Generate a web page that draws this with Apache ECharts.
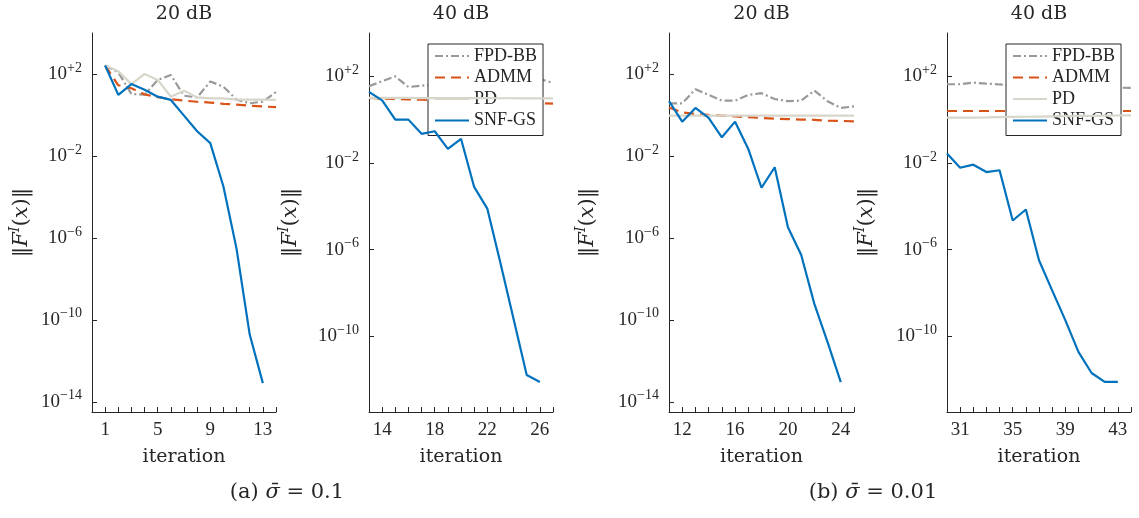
<!DOCTYPE html>
<html><head><meta charset="utf-8">
<script src="https://cdn.jsdelivr.net/npm/echarts@6/dist/echarts.min.js"></script>
<style>html,body{margin:0;padding:0;background:#fff}#c{width:1139px;height:518px}</style>
</head><body><div id="c"></div><script>
// ---------------- data ----------------
const seriesNames = ['FPD-BB', 'ADMM', 'PD', 'SNF-GS'];
const panelTitles = ['20 dB', '40 dB', '20 dB', '40 dB'];
const captions = ['(a) ', '(b) '];
const captionValues = ['0.1', '0.01'];

// (a) sigma = 0.1, 20 dB
const itA20 = [1,2,3,4,5,6,7,8,9,10,11,12,13,14];
const fpdA20 = [2.6e2,1.2e2,1.05e1,9.8,5.1e1,8.9e1,8.7,7.2,4.3e1,2.4e1,5.6,3.7,4.5,1.3e1];
const admmA20 = [2.6e2,2.8e1,2.0e1,1.0e1,7.4,5.9,5.0,4.4,4.0,3.5,3.2,2.8,2.6,2.4];
const pdA20 = [2.6e2,1.35e2,3.2e1,1.0e2,5.1e1,7.8,1.5e1,7.2,6.5,6.5,5.6,5.6,5.6,5.4];
const snfA20 = [2.6e2,9.5,3.2e1,1.7e1,7.8,5.4,9.3e-1,1.6e-1,4.2e-2,3.2e-4,2.9e-7,1.9e-11,8.1e-14];
// (a) sigma = 0.1, 40 dB
const itA40 = [13,14,15,16,17,18,19,20,21,22,23,24,25,26,27];
const fpdA40 = [3.5e1,5.9e1,1.0e2,3.2e1,3.7e1,4.2e1,5.0e1,3.8e1,4.6e1,5.6e1,4.2e1,5.0e1,6.6e1,7.6e1,4.9e1];
const admmA40 = [1.0e1,9.3,9.1,8.7,8.3,7.9,7.6,7.2,6.9,6.6,6.5,6.3,6.0,5.8,5.5];
const pdA40 = [1.0e1,1.0e1,1.0e1,1.0e1,9.9,9.9,9.9,9.8,9.8,9.8,9.7,9.7,9.6,9.6,9.5];
const snfA40 = [1.9e1,7.8,1.0,1.0,2.2e-1,2.9e-1,4.5e-2,1.3e-1,7.8e-4,7.8e-5,2.4e-7,6.3e-10,1.6e-12,7.6e-13];
// (b) sigma = 0.01, 20 dB
const itB20 = [11,12,13,14,15,16,17,18,19,20,21,22,23,24,25];
const fpdB20 = [3.7,3.7,1.8e1,9.5,5.0,5.0,9.5,1.15e1,6.0,4.7,5.0,1.55e1,4.7,2.2,2.6];
const admmB20 = [2.3,1.35,1.1,1.0,0.93,0.85,0.78,0.71,0.66,0.63,0.59,0.58,0.52,0.51,0.49];
const pdB20 = [0.93,0.93,0.93,0.93,0.93,0.93,0.93,0.93,0.93,0.93,0.93,0.93,0.93,0.93,0.93];
const snfB20 = [4.7,4.7e-1,2.2,7.1e-1,8.1e-2,4.7e-1,2.2e-2,2.8e-4,2.8e-3,3.3e-6,1.5e-7,6.0e-10,8.1e-12,9.1e-14];
// (b) sigma = 0.01, 40 dB
const itB40 = [30,31,32,33,34,35,36,37,38,39,40,41,42,43,44];
const fpdB40 = [4.3e1,4.3e1,5.1e1,4.6e1,4.2e1,4.0e1,3.8e1,3.7e1,3.5e1,3.5e1,3.4e1,3.3e1,3.2e1,3.0e1,2.9e1];
const admmB40 = [2.5,2.5,2.5,2.5,2.5,2.5,2.5,2.5,2.5,2.5,2.5,2.5,2.5,2.5,2.5];
const pdB40 = [1.23,1.23,1.25,1.27,1.3,1.33,1.36,1.39,1.42,1.45,1.48,1.5,1.53,1.55,1.58];
const snfB40 = [2.7e-2,6.0e-3,8.3e-3,3.8e-3,4.6e-3,2.2e-5,7.1e-5,3.2e-7,1.3e-8,5.5e-10,1.9e-11,2.0e-12,7.8e-13,7.8e-13];

// tick labels (x: iteration, y: log10 exponent)
const xTickLabels = [[1,5,9,13],[14,18,22,26],[12,16,20,24],[31,35,39,43]];
const yTickExps = [[-14,-10,-6,-2,2],[-10,-6,-2,2],[-14,-10,-6,-2,2],[-10,-6,-2,2]];

// ---------------- layout / style ----------------
const FONT = '"Liberation Serif", "DejaVu Serif", serif';
const FONT2 = '"DejaVu Serif", serif';
const AX = '#262626';
const colors = {'FPD-BB':'#999999','ADMM':'#D95319','PD':'#D8D6CA','SNF-GS':'#0072BD'};
const ltype = {'FPD-BB':[8,3,2,3],'ADMM':[10,6],'PD':'solid','SNF-GS':'solid'};
const panelIts = [itA20, itA40, itB20, itB40];
const panelData = [[fpdA20,admmA20,pdA20,snfA20],[fpdA40,admmA40,pdA40,snfA40],[fpdB20,admmB20,pdB20,snfB20],[fpdB40,admmB40,pdB40,snfB40]];
const layout = [
  {left:92, width:184, xmin:0, xmax:14, ymin:-14.5, ymax:4, nameGap:56},
  {left:369, width:184, xmin:13, xmax:27, ymin:-13.5, ymax:4, nameGap:64},
  {left:669, width:185, xmin:11, xmax:25, ymin:-14.5, ymax:4, nameGap:67},
  {left:947, width:184, xmin:30, xmax:44, ymin:-13.5, ymax:4, nameGap:66}
];
const TOP = 33, H = 379;

const grid = [], xAxis = [], yAxis = [], series = [], graphic = [];
layout.forEach((L, i) => {
  grid.push({left:L.left, top:TOP, width:L.width, height:H, containLabel:false});
  const ticks = [];
  for (let v = Math.ceil(L.xmin); v <= Math.floor(L.xmax); v++) ticks.push(v);
  xAxis.push({
    gridIndex:i, type:'value', min:L.xmin, max:L.xmax,
    axisLine:{show:true, onZero:false, lineStyle:{color:AX, width:1}},
    axisTick:{show:true, inside:true, length:5, customValues:ticks, lineStyle:{color:AX}},
    axisLabel:{customValues:xTickLabels[i], fontFamily:FONT, fontSize:19, color:AX, margin:9},
    splitLine:{show:false},
    name:'iteration', nameLocation:'middle', nameGap:36,
    nameTextStyle:{fontFamily:FONT2, fontSize:19, color:AX}
  });
  yAxis.push({
    gridIndex:i, type:'value', min:L.ymin, max:L.ymax,
    axisLine:{show:true, onZero:false, lineStyle:{color:AX, width:1}},
    axisTick:{show:true, inside:true, length:5, customValues:yTickExps[i], lineStyle:{color:AX}},
    axisLabel:{
      customValues:yTickExps[i], margin:10,
      formatter: v => '{b|10}{s|' + (v > 0 ? '+' : '\u2212') + Math.abs(v) + '}',
      rich:{
        b:{fontFamily:FONT, fontSize:19, color:AX, lineHeight:26},
        s:{fontFamily:FONT, fontSize:14, color:AX, lineHeight:15, verticalAlign:'top'}
      }
    },
    splitLine:{show:false},
    name:'{n|\u2016}{i|F}{s|I}{n|(}{i|x}{n|)\u2016}', nameLocation:'middle', nameGap:L.nameGap, nameRotate:90,
    nameTextStyle:{
      rich:{
        n:{fontFamily:FONT2, fontSize:21, color:AX, lineHeight:28},
        i:{fontFamily:FONT2, fontSize:21, fontStyle:'italic', color:AX, lineHeight:28},
        s:{fontFamily:FONT2, fontSize:14, fontStyle:'italic', color:AX, lineHeight:14, verticalAlign:'top'}
      }
    }
  });
  seriesNames.forEach((nm, k) => {
    const its = panelIts[i], vals = panelData[i][k];
    const data = [];
    vals.forEach((v, j) => data.push([its[j], Math.log10(v)]));
    series.push({
      type:'line', name:nm, xAxisIndex:i, yAxisIndex:i, data, symbol:'none', showSymbol:false,
      lineStyle:{color:colors[nm], width:2.2, type:ltype[nm]}, itemStyle:{color:colors[nm]},
      z:2 + k, animation:false
    });
  });
  graphic.push({type:'text', x:L.left + L.width/2, y:14, style:{text:panelTitles[i], font:'19px ' + FONT2, fill:AX, textAlign:'center', textVerticalAlign:'middle'}});
});
[[287, 0], [873, 1]].forEach(([cx, k]) => {
  graphic.push({type:'text', x:cx, y:493, style:{
    text:'{n|' + captions[k] + '}{i|\u03C3\u0304}{n| = ' + captionValues[k] + '}',
    textAlign:'center', textVerticalAlign:'middle',
    rich:{n:{fontFamily:FONT2, fontSize:21, fill:AX}, i:{fontFamily:FONT2, fontSize:21, fontStyle:'italic', fill:AX}}
  }});
});

const legendBase = {
  orient:'vertical', top:44, itemWidth:34, itemHeight:18, itemGap:3.5,
  padding:[3, 6, 6, 6], backgroundColor:'#fff', borderColor:AX, borderWidth:1,
  itemStyle:{opacity:0},
  textStyle:{fontFamily:FONT, fontSize:18, lineHeight:18, color:AX}, data:seriesNames, selectedMode:false
};
const legend = [Object.assign({left:428}, legendBase), Object.assign({left:1006}, legendBase)];

const chart = echarts.init(document.getElementById('c'), null, {renderer:'canvas'});
chart.setOption({animation:false, backgroundColor:'#fff', grid, xAxis, yAxis, series, legend, graphic});
</script></body></html>
